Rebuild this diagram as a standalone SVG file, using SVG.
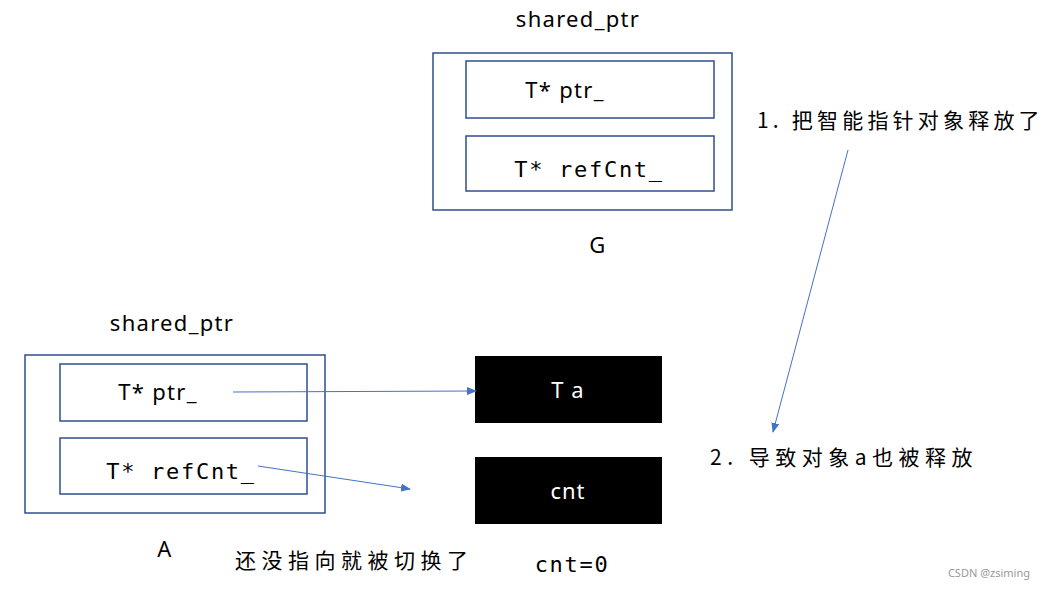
<svg xmlns="http://www.w3.org/2000/svg" width="1047" height="589" viewBox="0 0 1047 589">
<style>
.box{fill:#fff;stroke:#2f4f8f;stroke-width:1.5}
.blk{fill:#000}
.t{font-family:"Noto Sans","Liberation Sans",sans-serif;font-size:22px;fill:#000;letter-spacing:1.3px}
.m{font-family:"DejaVu Sans Mono","Liberation Mono",monospace;font-size:22px;fill:#000;letter-spacing:1.7px}
.c{font-family:"Noto Sans CJK SC","Noto Sans",sans-serif;font-size:21px;fill:#000;letter-spacing:5.5px}
.w{font-family:"Noto Sans","Liberation Sans",sans-serif;font-size:22px;fill:#fff;letter-spacing:1px}
.ln{stroke:#4472c4;stroke-width:1;fill:none;marker-end:url(#ah)}
</style>
<defs><marker id="ah" markerWidth="10" markerHeight="8" refX="9" refY="4" orient="auto" markerUnits="userSpaceOnUse"><path d="M0,0L10,4L0,8z" fill="#4472c4"/></marker></defs>
<rect width="1047" height="589" fill="#fff"/>
<g id="G">
<text class="t" x="578" y="27" text-anchor="middle">shared_ptr</text>
<rect class="box" x="433" y="53" width="299" height="157"/>
<rect class="box" x="466" y="61" width="248" height="57"/>
<text class="t" x="565" y="98" text-anchor="middle">T* ptr_</text>
<rect class="box" x="466" y="136" width="248" height="55"/>
<text class="m" x="589" y="177" text-anchor="middle">T* refCnt_</text>
<text class="t" x="598" y="253" text-anchor="middle">G</text>
</g>
<g id="A">
<text class="t" x="172" y="331" text-anchor="middle">shared_ptr</text>
<rect class="box" x="25" y="355" width="300" height="158"/>
<rect class="box" x="60" y="364" width="247" height="57"/>
<text class="t" x="158" y="400" text-anchor="middle">T* ptr_</text>
<rect class="box" x="60" y="438" width="247" height="56"/>
<text class="m" x="181" y="479" text-anchor="middle">T* refCnt_</text>
<text class="t" x="165" y="557" text-anchor="middle">A</text>
</g>
<g id="Ta"><rect class="blk" x="475" y="356" width="187" height="67"/><text class="w" x="568" y="398" text-anchor="middle">T a</text></g>
<g id="cnt"><rect class="blk" x="475" y="457" width="187" height="67"/><text class="w" x="568" y="499" text-anchor="middle">cnt</text></g>
<g id="labels">
<text class="c" x="757" y="128" style="letter-spacing:4.2px">1. 把智能指针对象释放了</text>
<text class="c" x="710" y="465">2. 导致对象a也被释放</text>
<text class="c" x="235" y="568">还没指向就被切换了</text>
<text class="m" x="572" y="572" text-anchor="middle">cnt=0</text>
<text x="1030" y="577" text-anchor="end" font-family="Noto Sans,sans-serif" font-size="11" fill="#999">CSDN @zsiming</text>
</g>
<g id="connectors">
<path class="ln" d="M233,392L476,391"/>
<path class="ln" d="M258,466L410,489"/>
<path class="ln" d="M848,150L773,432"/>
</g>
</svg>
